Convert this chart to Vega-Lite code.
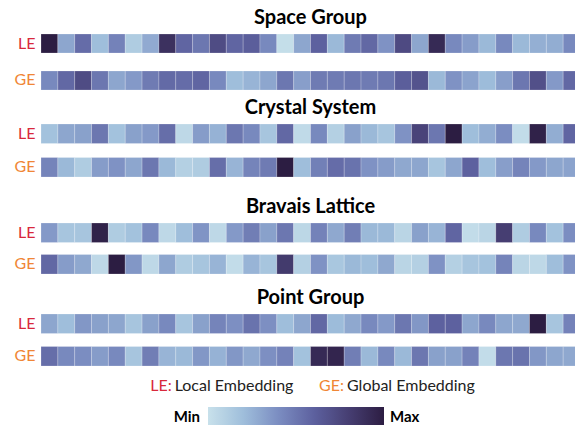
{
  "$schema": "https://vega.github.io/schema/vega-lite/v6.json",
  "padding": {"left": 14, "top": 7, "right": 0, "bottom": 0},
  "background": "white",
  "spacing": 6,
  "config": {
    "view": {"stroke": null},
    "font": "Lato",
    "title": {"font": "Lato", "fontSize": 20, "fontWeight": "bold", "color": "#000000", "offset": 6, "baseline": "alphabetic", "anchor": "middle"},
    "axis": {"labelFont": "Lato"}
  },
  "datasets": {
    "cells": [
      {"task": "Space Group", "emb": "LE", "i": [0,1,2,3,4,5,6,7,8,9,10,11,12,13,14,15,16,17,18,19,20,21,22,23,24,25,26,27,28,29,30,31],
       "v": [1.0,0.3,0.55,0.2,0.45,0.12,0.28,0.88,0.58,0.5,0.72,0.58,0.62,0.42,0.02,0.3,0.6,0.22,0.48,0.57,0.38,0.73,0.3,0.92,0.42,0.34,0.22,0.42,0.22,0.26,0.27,0.42]},
      {"task": "Space Group", "emb": "GE", "i": [0,1,2,3,4,5,6,7,8,9,10,11,12,13,14,15,16,17,18,19,20,21,22,23,24,25,26,27,28,29,30,31],
       "v": [0.42,0.57,0.72,0.5,0.3,0.35,0.48,0.56,0.55,0.58,0.42,0.2,0.24,0.3,0.5,0.33,0.48,0.48,0.5,0.48,0.5,0.62,0.68,0.22,0.38,0.31,0.21,0.33,0.5,0.7,0.35,0.57]},
      {"task": "Crystal System", "emb": "LE", "i": [0,1,2,3,4,5,6,7,8,9,10,11,12,13,14,15,16,17,18,19,20,21,22,23,24,25,26,27,28,29,30,31],
       "v": [0.18,0.3,0.32,0.5,0.18,0.32,0.35,0.54,0.05,0.34,0.25,0.5,0.42,0.16,0.57,0.04,0.42,0.1,0.32,0.22,0.16,0.38,0.77,0.5,1.0,0.2,0.27,0.4,0.03,0.97,0.27,0.58]},
      {"task": "Crystal System", "emb": "GE", "i": [0,1,2,3,4,5,6,7,8,9,10,11,12,13,14,15,16,17,18,19,20,21,22,23,24,25,26,27,28,29,30,31],
       "v": [0.44,0.22,0.12,0.34,0.38,0.3,0.5,0.22,0.1,0.12,0.54,0.24,0.44,0.48,1.0,0.2,0.46,0.55,0.52,0.38,0.34,0.29,0.3,0.16,0.3,0.6,0.2,0.33,0.44,0.35,0.3,0.31]},
      {"task": "Bravais Lattice", "emb": "LE", "i": [0,1,2,3,4,5,6,7,8,9,10,11,12,13,14,15,16,17,18,19,20,21,22,23,24,25,26,27,28,29,30,31],
       "v": [0.35,0.16,0.16,0.97,0.12,0.18,0.42,0.05,0.2,0.37,0.05,0.35,0.47,0.32,0.5,0.06,0.45,0.29,0.47,0.22,0.22,0.07,0.32,0.24,0.58,0.03,0.07,0.8,0.12,0.42,0.18,0.4]},
      {"task": "Bravais Lattice", "emb": "GE", "i": [0,1,2,3,4,5,6,7,8,9,10,11,12,13,14,15,16,17,18,19,20,21,22,23,24,25,26,27,28,29,30,31],
       "v": [0.57,0.34,0.29,0.05,1.0,0.36,0.05,0.3,0.12,0.16,0.24,0.03,0.24,0.16,0.82,0.1,0.38,0.15,0.22,0.2,0.29,0.07,0.1,0.38,0.1,0.16,0.18,0.44,0.07,0.05,0.2,0.38]},
      {"task": "Point Group", "emb": "LE", "i": [0,1,2,3,4,5,6,7,8,9,10,11,12,13,14,15,16,17,18,19,20,21,22,23,24,25,26,27,28,29,30,31],
       "v": [0.3,0.2,0.36,0.32,0.3,0.16,0.32,0.42,0.16,0.32,0.44,0.39,0.52,0.39,0.2,0.3,0.57,0.21,0.29,0.42,0.35,0.5,0.36,0.6,0.6,0.3,0.42,0.3,0.29,1.0,0.16,0.45]},
      {"task": "Point Group", "emb": "GE", "i": [0,1,2,3,4,5,6,7,8,9,10,11,12,13,14,15,16,17,18,19,20,21,22,23,24,25,26,27,28,29,30,31],
       "v": [0.54,0.42,0.4,0.34,0.42,0.16,0.47,0.24,0.22,0.36,0.25,0.36,0.29,0.39,0.45,0.18,0.92,0.95,0.47,0.22,0.42,0.22,0.5,0.32,0.32,0.45,0.03,0.5,0.52,0.36,0.3,0.29]}
    ]
  },
  "vconcat": [
    {
      "title": "Space Group",
      "width": 539, "height": 56,
      "data": {"name": "cells"},
      "transform": [{"flatten": ["i", "v"]}, {"filter": "datum.task === 'Space Group'"}],
      "mark": {"type": "rect", "stroke": "#ffffff", "strokeWidth": 0.6, "strokeOpacity": 0.35},
      "encoding": {
        "x": {"field": "i", "type": "ordinal", "axis": null, "scale": {"paddingInner": 0, "paddingOuter": 0}},
        "y": {"field": "emb", "type": "nominal", "sort": ["LE", "GE"],
              "scale": {"paddingInner": 0.486, "paddingOuter": 0, "align": 0},
              "axis": {"title": null, "domain": false, "ticks": false, "labelPadding": 6, "labelFontSize": 16,
                       "labelColor": {"condition": {"test": "datum.value === 'LE'", "value": "#d8283c"}, "value": "#f08636"}}},
        "color": {"field": "v", "type": "quantitative",
                  "scale": {"domain": [0, 1], "interpolate": "rgb", "range": ["#c8e1eb", "#9fbedb", "#7b8dc1", "#5d619f", "#463e72", "#2c1d42"]},
                  "legend": {"orient": "none", "legendX": 167, "legendY": 373, "direction": "horizontal", "title": null,
                             "gradientLength": 176, "gradientThickness": 20, "gradientStrokeWidth": 0,
                             "values": [0, 1], "labelExpr": "datum.value === 0 ? 'Min' : 'Max'",
                             "labelFont": "Lato", "labelFontSize": 15, "labelFontWeight": "bold", "labelColor": "#000000",
                             "labelOffset": -10,
                             "encode": {"labels": {"update": {
                               "align": {"signal": "datum.value === 0 ? 'right' : 'left'"},
                               "baseline": {"value": "middle"},
                               "dx": {"signal": "datum.value === 0 ? -8 : 6"}}}}}}
      }
    },
    {
      "title": "Crystal System",
      "width": 539, "height": 66,
      "data": {"name": "cells"},
      "transform": [{"flatten": ["i", "v"]}, {"filter": "datum.task === 'Crystal System'"}],
      "mark": {"type": "rect", "stroke": "#ffffff", "strokeWidth": 0.6, "strokeOpacity": 0.35},
      "encoding": {
        "x": {"field": "i", "type": "ordinal", "axis": null, "scale": {"paddingInner": 0, "paddingOuter": 0}},
        "y": {"field": "emb", "type": "nominal", "sort": ["LE", "GE"],
              "scale": {"paddingInner": 0.418, "paddingOuter": 0.194, "align": 0},
              "axis": {"title": null, "domain": false, "ticks": false, "labelPadding": 6, "labelFontSize": 16,
                       "labelColor": {"condition": {"test": "datum.value === 'LE'", "value": "#d8283c"}, "value": "#f08636"}}},
        "color": {"field": "v", "type": "quantitative"}
      }
    },
    {
      "title": "Bravais Lattice",
      "width": 539, "height": 58,
      "data": {"name": "cells"},
      "transform": [{"flatten": ["i", "v"]}, {"filter": "datum.task === 'Bravais Lattice'"}],
      "mark": {"type": "rect", "stroke": "#ffffff", "strokeWidth": 0.6, "strokeOpacity": 0.35},
      "encoding": {
        "x": {"field": "i", "type": "ordinal", "axis": null, "scale": {"paddingInner": 0, "paddingOuter": 0}},
        "y": {"field": "emb", "type": "nominal", "sort": ["LE", "GE"],
              "scale": {"paddingInner": 0.381, "paddingOuter": 0.111, "align": 0},
              "axis": {"title": null, "domain": false, "ticks": false, "labelPadding": 6, "labelFontSize": 16,
                       "labelColor": {"condition": {"test": "datum.value === 'LE'", "value": "#d8283c"}, "value": "#f08636"}}},
        "color": {"field": "v", "type": "quantitative"}
      }
    },
    {
      "title": "Point Group",
      "width": 539, "height": 52,
      "data": {"name": "cells"},
      "transform": [{"flatten": ["i", "v"]}, {"filter": "datum.task === 'Point Group'"}],
      "mark": {"type": "rect", "stroke": "#ffffff", "strokeWidth": 0.6, "strokeOpacity": 0.35},
      "encoding": {
        "x": {"field": "i", "type": "ordinal", "axis": null, "scale": {"paddingInner": 0, "paddingOuter": 0}},
        "y": {"field": "emb", "type": "nominal", "sort": ["LE", "GE"],
              "scale": {"paddingInner": 0.4, "paddingOuter": 0, "align": 0},
              "axis": {"title": null, "domain": false, "ticks": false, "labelPadding": 6, "labelFontSize": 16,
                       "labelColor": {"condition": {"test": "datum.value === 'LE'", "value": "#d8283c"}, "value": "#f08636"}}},
        "color": {"field": "v", "type": "quantitative"}
      }
    },
    {
      "width": 517, "height": 26,
      "data": {"values": [
        {"abbr": "LE:", "name": "Local Embedding"},
        {"abbr": "GE:", "name": "Global Embedding"}
      ]},
      "encoding": {
        "x": {"field": "abbr", "type": "nominal", "sort": ["LE:", "GE:"], "axis": null,
              "scale": {"type": "point", "padding": 1, "align": 0.382}}
      },
      "layer": [
        {"mark": {"type": "text", "align": "right", "dx": -1, "font": "Lato", "fontSize": 16},
         "encoding": {"text": {"field": "abbr"},
                      "color": {"condition": {"test": "datum.abbr === 'LE:'", "value": "#d8283c"}, "value": "#f08636"}}},
        {"mark": {"type": "text", "align": "left", "dx": 2, "font": "Lato", "fontSize": 16, "color": "#222222"},
         "encoding": {"text": {"field": "name"}}}
      ]
    }
  ]
}
